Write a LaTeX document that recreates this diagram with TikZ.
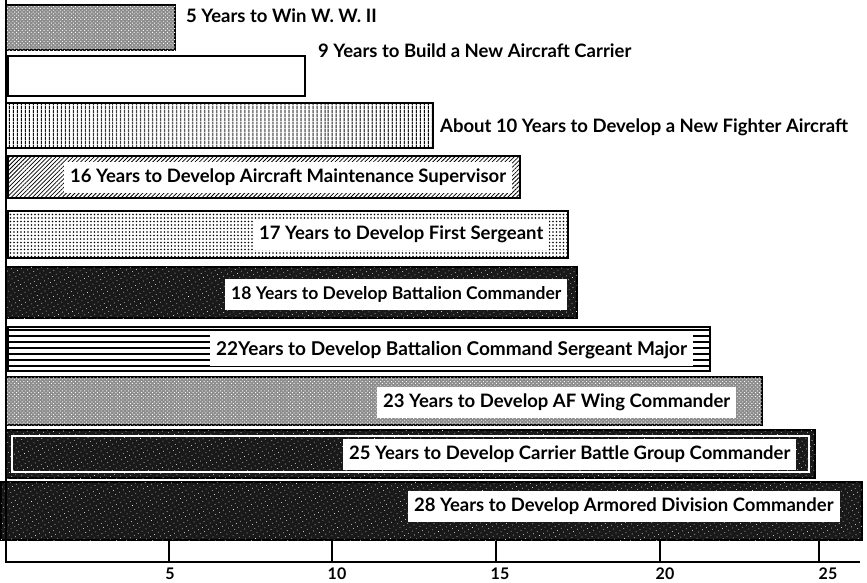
\documentclass[tikz,border=0pt]{standalone}
\usepackage{fontspec}
\setmainfont{Lato}
\usetikzlibrary{patterns.meta}
\newcommand{\yearbar}[4][]{
    \draw[bar, #1] (#2, #3) rectangle (#4);
}
\newcommand{\barlabel}[4][]{
    \node[boxlabel, #1] (#2) at (#3) {#4};
}
\tikzset{
    bar/.style={draw=black, line width=1.4pt},
    boxlabel/.style={anchor=west, fill=white, inner xsep=6pt, inner ysep=0pt,
        minimum height=31pt, font=\bfseries\fontsize{18.5}{21}\selectfont},
    checker/.style={fill=black!45, postaction={pattern={Dots[distance=2.6pt, radius=0.65pt, angle=45]}, pattern color=white}},
    vlines/.style={pattern={Lines[angle=90, distance=4pt, line width=1.3pt]}},
    slants/.style={pattern={Lines[angle=45, distance=3pt, line width=0.8pt]}},
    speckle/.style={pattern={Dots[distance=3.5pt, radius=0.8pt]}},
    hlines/.style={pattern={Lines[angle=0, distance=6pt, line width=1.5pt]}},
    dark/.style={fill=black!90, postaction={pattern={Dots[distance=4.5pt, radius=0.45pt, angle=30]}, pattern color=white}},
    tick/.style={draw=black, line width=1.2pt},
    ticklabel/.style={font=\bfseries\fontsize{16}{18}\selectfont, inner sep=0pt}
}

\begin{document}
\begin{tikzpicture}[x=1pt, y=-1pt]
    \useasboundingbox (0, 0) rectangle (867, 582);

    % bars, top to bottom
    \yearbar[checker]{6}{5}{175, 50};
    \yearbar[fill=white, line width=2pt]{8}{56}{305, 96};
    \yearbar[vlines]{6}{103}{433, 148};
    \yearbar[slants]{8}{156}{520, 198};
    \yearbar[speckle]{8}{211}{568, 258};
    \yearbar[dark]{6}{267}{577, 318};
    \yearbar[hlines]{8}{327}{710, 371};
    \yearbar[checker]{6}{377}{762, 425};
    \yearbar[dark]{6}{430}{815, 478};
    \draw[white, line width=1.6pt] (12, 436) rectangle (809, 472);
    \yearbar[dark]{1}{482}{862, 540};

    % labels
    \barlabel[fill=none, inner xsep=0pt]{wwtwo}{186, 16}{5 Years to Win W. W. II};
    \barlabel[fill=none, inner xsep=0pt]{carrier}{318, 51}{9 Years to Build a New Aircraft Carrier};
    \barlabel[fill=none, inner xsep=0pt]{fighter}{440, 127}{About 10 Years to Develop a New Fighter Aircraft};
    \barlabel{maint}{64, 177}{16 Years to Develop Aircraft Maintenance Supervisor};
    \barlabel{firstsgt}{253, 234}{17 Years to Develop First Sergeant};
    \barlabel[font=\bfseries\fontsize{17.5}{21}\selectfont]{batcmd}{225, 294}{18 Years to Develop Battalion Commander};
    \barlabel[font=\bfseries\fontsize{19}{21}\selectfont]{csm}{210, 350}{22Years to Develop Battalion Command Sergeant Major};
    \barlabel{wing}{377, 402}{23 Years to Develop AF Wing Commander};
    \barlabel{cvbg}{343, 454}{25 Years to Develop Carrier Battle Group Commander};
    \barlabel{armdiv}{408, 506}{28 Years to Develop Armored Division Commander};

    % axis
    \draw[tick] (6, 0) -- (6, 562) -- (860, 562);
    \foreach \tx/\lx/\yr in {169/170/5, 332/337/10, 496/500/15, 660/665/20, 819/828/25} {
        \draw[tick] (\tx, 541) -- (\tx, 562);
        \node[ticklabel] (yr\yr) at (\lx, 574) {\yr};
    }
\end{tikzpicture}
\end{document}
